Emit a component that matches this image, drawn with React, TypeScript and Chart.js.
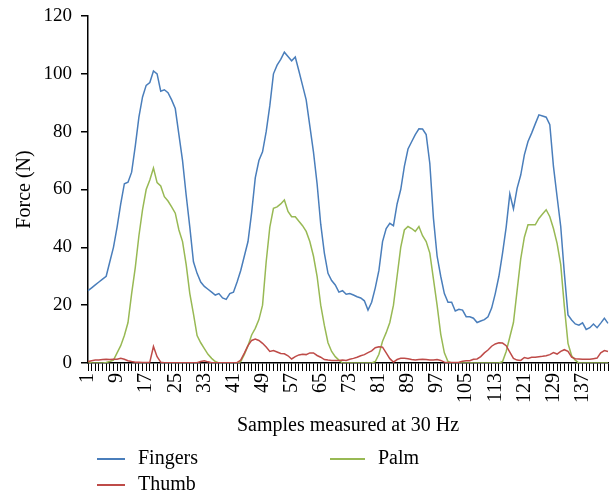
import React, { useEffect, useRef } from "react";
import { Chart, registerables } from "chart.js";

Chart.register(...registerables);

const samples: string[] = Array.from({ length: 144 }, (_, i) => String(i + 1));

const fingers: number[] = [
  25, 26, 27, 28, 29, 30, 35, 40, 47, 55,
  62, 62.5, 66, 75, 85, 92, 96, 97, 101, 100,
  94, 94.5, 93.5, 91, 88, 79, 70, 58, 47, 35,
  31, 28, 26.5, 25.5, 24.5, 23.5, 24, 22.5, 22, 24,
  24.5, 28, 32, 37, 42, 52, 64, 70, 73, 80,
  89, 100, 103, 105, 107.5, 106, 104.5, 105.8, 101, 96,
  91, 82, 73, 62, 48, 38, 31, 28.5, 27, 24.5,
  25, 23.8, 24, 23.5, 22.9, 22.5, 21.5, 18.3, 21, 26,
  32, 42, 46.5, 48.3, 47.5, 55, 60, 68, 74, 76.5,
  79, 81, 80.9, 79, 69, 50, 37, 30, 24, 21,
  21, 18, 18.6, 18.3, 16, 16, 15.5, 14, 14.5, 15,
  16, 19, 24, 30, 38, 47, 58.5, 53.3, 60.4, 65,
  72, 76.6, 79.5, 82.7, 85.8, 85.4, 85, 82.4, 68, 57.5,
  47.2, 31, 16.6, 14.9, 13.5, 13.1, 13.9, 11.6, 12.2, 13.5,
  12.2, 13.8, 15.5, 13.7,
];

const thumb: number[] = [
  0.5, 0.8, 1.0, 1.0, 1.2, 1.3, 1.2, 1.3, 1.3, 1.6,
  1.3, 0.8, 0.5, 0.3, 0.3, 0.2, 0.2, 0.3, 5.7, 2.2,
  0.3, 0.1, 0.1, 0.1, 0.1, 0.1, 0.1, 0.1, 0.1, 0.1,
  0.1, 0.5, 0.8, 0.4, 0.1, 0.1, 0.1, 0.1, 0.1, 0.1,
  0.1, 0.1, 1, 3.4, 6, 7.8, 8.3, 7.8, 6.8, 5.5,
  4, 4.3, 3.8, 3.3, 3.2, 2.5, 1.4, 2.2, 2.8, 3,
  2.9, 3.5, 3.5, 2.6, 2, 1.2, 1, 0.9, 0.9, 0.9,
  1, 0.9, 1.3, 1.6, 2, 2.5, 2.9, 3.6, 4.2, 5.3,
  5.6, 5.5, 3.5, 1.5, 0.3, 1.2, 1.6, 1.6, 1.5, 1.2,
  1.0, 1.2, 1.3, 1.2, 1.0, 1.0, 1.2, 0.9, 0.3, 0.2,
  0.2, 0.2, 0.3, 0.6, 0.8, 0.8, 1.3, 1.4, 2.2, 3.5,
  4.5, 5.8, 6.6, 7, 6.9, 6, 3.8, 1.6, 1.0, 0.9,
  1.9, 1.6, 2.0, 2.0, 2.2, 2.3, 2.5, 2.9, 3.6, 3.1,
  4.0, 4.6, 4.0, 2.0, 1.5, 1.4, 1.3, 1.3, 1.3, 1.5,
  1.7, 3.5, 4.3, 4.0,
];

const palm: number[] = [
  0.5, 0, 0, 0, 0, 0.2, 0.5, 1, 3.5, 6,
  9.5, 14, 24, 33, 44, 53, 60, 63.3, 67.4, 62.4,
  61.2, 57.5, 56, 54, 51.8, 46, 42, 34, 24, 17,
  9.5, 7, 5, 3, 1.6, 0.5, 0, 0, 0, 0,
  0, 0, 0.5, 3, 6, 9.7, 12, 15, 20, 35,
  47, 53.5, 54, 55, 56.4, 52.4, 50.6, 50.6, 49, 47.5,
  45.5, 42, 37, 30, 20, 13, 7, 4, 2.2, 1,
  0, 0, 0, 0, 0, 0, 0, 0, 0, 0.5,
  3, 7.5, 10.5, 14, 20, 30, 40, 46, 47.2, 46.5,
  45.5, 47.2, 44, 42, 38, 29, 20, 10, 3.5, 0.5,
  0, 0, 0, 0, 0, 0, 0, 0, 0, 0,
  0, 0, 0, 0, 0.5, 4, 9, 14, 25, 36,
  43.5, 47.8, 47.8, 47.8, 50, 51.5, 53, 50.6, 46.5, 41.4,
  34, 19.5, 6.8, 2.5, 1, 0, 0, 0, 0, 0,
  0, 0, 0, 0,
];

const FONT = "'Liberation Serif', 'Times New Roman', serif";
const BLUE = "#4a7ebb";
const RED = "#be4b48";
const GREEN = "#98b954";

export default function App() {
  const ref = useRef<HTMLCanvasElement | null>(null);

  useEffect(() => {
    if (!ref.current) return;
    const chart = new Chart(ref.current, {
      type: "line",
      data: {
        labels: samples,
        datasets: [
          { label: "Fingers", data: fingers, borderColor: BLUE, backgroundColor: BLUE, borderWidth: 1.5, pointRadius: 0, tension: 0 },
          { label: "Thumb", data: thumb, borderColor: RED, backgroundColor: RED, borderWidth: 1.5, pointRadius: 0, tension: 0 },
          { label: "Palm", data: palm, borderColor: GREEN, backgroundColor: GREEN, borderWidth: 1.5, pointRadius: 0, tension: 0 },
        ],
      },
      options: {
        responsive: false,
        animation: false,
        layout: { padding: { left: 0, right: 7, top: 16, bottom: 54 } },
        plugins: { legend: { display: false }, tooltip: { enabled: false } },
        scales: {
          x: {
            type: "category",
            offset: false,
            grid: { display: true, drawOnChartArea: false, drawTicks: true, tickLength: 8, color: "#000", lineWidth: 1 },
            border: { color: "#000", width: 1.5 },
            ticks: {
              autoSkip: false,
              maxRotation: 90,
              minRotation: 90,
              padding: 2,
              color: "#000",
              font: { family: FONT, size: 20 },
              callback: (_v: any, i: number) => (i % 8 === 0 ? samples[i] : ""),
            },
            title: { display: true, text: "Samples measured at 30 Hz", color: "#000", font: { family: FONT, size: 20 }, padding: { top: 0, bottom: 2 } },
            afterFit: (s: any) => {
              s.height = 77;
              s.paddingLeft = 0;
              s.paddingRight = 0;
            },
          },
          y: {
            min: 0,
            max: 120,
            grid: { display: true, drawOnChartArea: false, drawTicks: true, tickLength: 7, color: "#000", lineWidth: 1.5 },
            border: { color: "#000", width: 1.5 },
            ticks: { stepSize: 20, padding: 9, color: "#000", font: { family: FONT, size: 19 } },
            title: { display: true, text: "Force (N)", color: "#000", font: { family: FONT, size: 20 }, padding: { top: 13, bottom: 0 } },
            afterFit: (s: any) => {
              s.width = 88;
              s.paddingTop = 0;
              s.paddingBottom = 0;
            },
          },
        },
      },
    });
    return () => chart.destroy();
  }, []);

  const legendText: React.CSSProperties = {
    position: "absolute",
    fontFamily: FONT,
    fontSize: 20,
    lineHeight: "20px",
    color: "#000",
    whiteSpace: "nowrap",
  };
  const line = (left: number, top: number, width: number, color: string): React.CSSProperties => ({
    position: "absolute",
    left,
    top,
    width,
    height: 1.5,
    background: color,
  });

  return (
    <div style={{ position: "fixed", left: 0, top: 0, width: 615, height: 494, background: "#fff" }}>
      <canvas ref={ref} width={615} height={494} />
      <div style={line(97, 458, 28, BLUE)} />
      <div style={{ ...legendText, left: 138, top: 447 }}>Fingers</div>
      <div style={line(97, 484, 28, RED)} />
      <div style={{ ...legendText, left: 138, top: 473 }}>Thumb</div>
      <div style={line(330, 458, 35, GREEN)} />
      <div style={{ ...legendText, left: 378, top: 447 }}>Palm</div>
    </div>
  );
}
